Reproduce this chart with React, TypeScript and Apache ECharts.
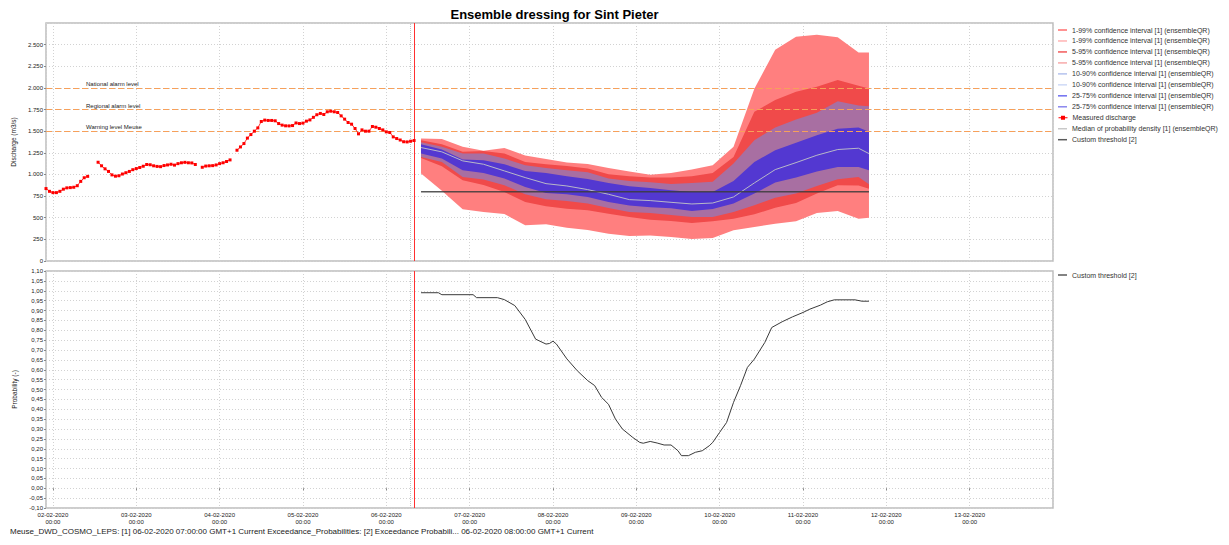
import React, { useEffect, useRef } from 'react';
import * as echarts from 'echarts';

// ---------- time helpers (hours counted from 02-02-2020 00:00 local) ----------
const BASE = new Date(2020, 1, 2, 0, 0, 0).getTime();
const HOUR = 3600000;
const t = (h: number) => BASE + h * HOUR;

// ---------- texts ----------
const chartTitle = 'Ensemble dressing for Sint Pieter';
const footerText =
  'Meuse_DWD_COSMO_LEPS: [1] 06-02-2020 07:00:00 GMT+1 Current Exceedance_Probabilities: [2] Exceedance Probabili... 06-02-2020 08:00:00 GMT+1 Current';
const band1Name = '1-99% confidence interval [1] (ensembleQR)';
const band2Name = '5-95% confidence interval [1] (ensembleQR)';
const band3Name = '10-90% confidence interval [1] (ensembleQR)';
const band4Name = '25-75% confidence interval [1] (ensembleQR)';
const measuredName = 'Measured discharge';
const medianName = 'Median of probability density [1] (ensembleQR)';
const thresholdName = 'Custom threshold [2]';

// ---------- x range (hours) ----------
const axisMinHour = -2; // 01-02-2020 22:00
const axisMaxHour = 288; // 14-02-2020 00:00
const forecastT0Hour = 103; // 06-02-2020 07:00
const probT0Hour = 104; // 06-02-2020 08:00

// ---------- alarm levels ----------
const alarmNames = ['National alarm level', 'Regional alarm level', 'Warning level Meuse'];
const alarmValues = [2000, 1750, 1500];

// ---------- measured discharge, hourly from hour -2 ----------
const measStartHour = -2;
const measValues: (number | null)[] = [
  837, 805, 790, 790, 805, 830, 845, 848, 852, 870, 920, 962, 978, null, null,
  1141, 1100, 1065, 1035, 995, 980, 985, 1005, 1020, 1035, 1055, 1068, 1080, 1095,
  1115, 1112, 1100, 1093, 1090, 1103, 1110, 1118, 1108, 1125, 1135, 1140, 1135, 1133,
  1115, null,
  1083, 1097, 1100, 1102, 1110, 1125, 1135, 1150, 1168, null,
  1280, 1318, 1357, 1420, 1461, 1500, 1538, 1612, 1628, 1624, 1624, 1620, 1588, 1570,
  1562, 1561, 1565, 1595, 1588, 1593, 1616, 1630, 1660, 1690, 1705, 1693, 1724, 1731,
  1724, 1716, 1677, 1639, 1600, 1581, 1531, 1469, 1515, 1500, 1500, 1554, 1546, 1531,
  1515, 1492, 1485, 1434, 1415, 1398, 1378, 1376, 1384, 1392,
];

// ---------- ensemble forecast quantiles ----------
const fcHours = [106, 112, 118, 124, 130, 136, 142, 148, 154, 160, 166, 172, 178, 184, 190, 196, 202, 208, 214, 220, 226, 232, 235];
const p99 = [1415, 1411, 1319, 1275, 1307, 1218, 1180, 1137, 1122, 1075, 1033, 998, 1018, 1056, 1106, 1319, 1990, 2440, 2592, 2615, 2584, 2410, 2410];
const p95 = [1396, 1350, 1261, 1270, 1241, 1145, 1118, 1099, 1068, 1002, 979, 964, 964, 979, 1018, 1203, 1724, 1859, 1955, 2013, 2090, 2025, 1994];
const p90 = [1373, 1319, 1241, 1241, 1184, 1106, 1075, 1048, 1025, 952, 925, 910, 890, 902, 917, 1126, 1396, 1542, 1635, 1712, 1847, 1797, 1789];
const p75 = [1350, 1288, 1172, 1164, 1118, 1041, 1018, 979, 948, 902, 863, 844, 817, 798, 798, 925, 1145, 1280, 1365, 1454, 1527, 1542, 1492];
const p50 = [1311, 1261, 1157, 1118, 1041, 964, 894, 867, 825, 771, 709, 698, 678, 659, 670, 740, 902, 1056, 1137, 1222, 1288, 1303, 1241];
const p25 = [1241, 1184, 1048, 1018, 952, 856, 786, 771, 740, 682, 640, 620, 609, 578, 601, 663, 779, 906, 964, 1033, 1087, 1087, 1048];
const p10 = [1203, 1145, 971, 941, 875, 771, 713, 694, 663, 613, 566, 555, 532, 508, 508, 566, 643, 732, 779, 867, 945, 971, 887];
const p05 = [1191, 1095, 933, 879, 798, 682, 632, 605, 586, 547, 508, 478, 462, 439, 458, 489, 539, 616, 670, 779, 875, 871, 836];
const p01 = [1010, 813, 597, 566, 543, 412, 424, 385, 358, 316, 289, 296, 277, 254, 265, 354, 393, 431, 458, 555, 578, 489, 501];

// ---------- custom threshold ----------
const thresholdHours = [106, 235];
const thresholdValues = [800, 800];

// ---------- exceedance probability ----------
const probHours = [106, 111, 112, 121, 122, 128, 130, 133, 136, 139, 142, 143, 144, 145, 147, 148, 151, 154, 156, 158, 160, 162, 164, 167, 169, 170, 172, 174, 176, 178, 180, 181, 183, 185, 187, 189, 190, 192, 194, 196, 198, 200, 202, 205, 207, 210, 213, 216, 218, 221, 223, 225, 231, 233, 235];
const probValues = [0.99, 0.99, 0.98, 0.98, 0.965, 0.965, 0.955, 0.925, 0.855, 0.755, 0.73, 0.733, 0.745, 0.73, 0.68, 0.655, 0.595, 0.545, 0.52, 0.46, 0.425, 0.35, 0.3, 0.257, 0.232, 0.228, 0.237, 0.229, 0.219, 0.219, 0.19, 0.165, 0.165, 0.182, 0.19, 0.215, 0.232, 0.283, 0.333, 0.435, 0.519, 0.612, 0.654, 0.738, 0.814, 0.843, 0.868, 0.89, 0.907, 0.927, 0.944, 0.954, 0.954, 0.947, 0.947];

// ---------- styles ----------
const FONT = 'Liberation Sans';
const gridLine = { color: '#d2d2d2', type: [1, 2] as number[], width: 1 };
const bandColors = ['#ff7f7f', '#f04a4a', '#a86fa2', '#5338d1'];
const legendItems: [string, string][] = [
  [band1Name, '#ff6e6e'],
  [band1Name, '#ffb3b3'],
  [band2Name, '#f25a5a'],
  [band2Name, '#f7aaaa'],
  [band3Name, '#b4c2ee'],
  [band3Name, '#cfdaf6'],
  [band4Name, '#6e6ef0'],
  [band4Name, '#8a86ee'],
  [measuredName, '#ff0000'],
  [medianName, '#c8c8c8'],
  [thresholdName, '#5a5a5a'],
];

const pad = (n: number) => (n < 10 ? '0' + n : String(n));
const dateLabel = (v: number) => {
  const d = new Date(v);
  return `${pad(d.getDate())}-${pad(d.getMonth() + 1)}-${d.getFullYear()}\n${pad(d.getHours())}:${pad(d.getMinutes())}`;
};
const thousands = (v: number) => {
  const s = String(Math.round(v));
  return s.replace(/\B(?=(\d{3})+(?!\d))/g, '.');
};
const probLabel = (v: number) => {
  const x = Math.abs(v) < 1e-9 ? 0 : v;
  return x.toFixed(2).replace('.', ',');
};

function buildOption() {
  const bands = [
    { name: band1Name, lo: p01, hi: p99 },
    { name: band2Name, lo: p05, hi: p95 },
    { name: band3Name, lo: p10, hi: p90 },
    { name: band4Name, lo: p25, hi: p75 },
  ];
  const series: any[] = [];
  bands.forEach((b, i) => {
    series.push({
      type: 'line',
      name: 'base' + i,
      xAxisIndex: 0,
      yAxisIndex: 0,
      stack: 'band' + i,
      data: fcHours.map((h, k) => [t(h), b.lo[k]]),
      symbol: 'none',
      lineStyle: { width: 0, opacity: 0 },
      silent: true,
      z: 2,
    });
    series.push({
      type: 'line',
      name: b.name,
      xAxisIndex: 0,
      yAxisIndex: 0,
      stack: 'band' + i,
      data: fcHours.map((h, k) => [t(h), b.hi[k] - b.lo[k]]),
      symbol: 'none',
      lineStyle: { width: 0, opacity: 0 },
      itemStyle: { color: bandColors[i] },
      areaStyle: { color: bandColors[i], opacity: 1 },
      silent: true,
      z: 2,
    });
  });
  series.push({
    type: 'line',
    name: medianName,
    xAxisIndex: 0,
    yAxisIndex: 0,
    data: fcHours.map((h, k) => [t(h), p50[k]]),
    symbol: 'none',
    lineStyle: { color: '#b8b8c8', width: 1 },
    itemStyle: { color: '#b8b8c8' },
    z: 3,
  });
  series.push({
    type: 'line',
    name: thresholdName,
    xAxisIndex: 0,
    yAxisIndex: 0,
    data: thresholdHours.map((h, k) => [t(h), thresholdValues[k]]),
    symbol: 'none',
    lineStyle: { color: '#3c3c3c', width: 1.5, opacity: 0.85 },
    itemStyle: { color: '#3c3c3c' },
    z: 4,
  });
  series.push({
    type: 'line',
    name: measuredName,
    xAxisIndex: 0,
    yAxisIndex: 0,
    data: measValues.map((v, i) => [t(measStartHour + i), v]),
    symbol: 'rect',
    symbolSize: 3,
    showSymbol: true,
    showAllSymbol: true,
    connectNulls: false,
    lineStyle: { color: '#ff0000', width: 0.8 },
    itemStyle: { color: '#ff0000' },
    z: 5,
    markLine: {
      silent: true,
      symbol: 'none',
      animation: false,
      data: [
        ...alarmNames.map((n, i) => ({
          name: n,
          yAxis: alarmValues[i],
          lineStyle: { color: '#f7a05a', type: [6, 3], width: 1.2, opacity: 1 },
          label: {
            show: true,
            position: 'insideStartTop',
            formatter: n,
            distance: [40, 1],
            fontSize: 6,
            fontFamily: FONT,
            color: '#222',
          },
        })),
        {
          xAxis: t(forecastT0Hour),
          lineStyle: { color: '#c4c4c4', type: [1, 1], width: 1 },
          label: { show: false },
        },
        {
          xAxis: t(probT0Hour),
          lineStyle: { color: '#ff3030', type: 'solid', width: 1 },
          label: { show: false },
        },
      ],
    },
  });
  series.push({
    type: 'line',
    name: thresholdName,
    xAxisIndex: 1,
    yAxisIndex: 1,
    data: probHours.map((h, k) => [t(h), probValues[k]]),
    symbol: 'none',
    lineStyle: { color: '#3a3a3a', width: 1 },
    itemStyle: { color: '#3a3a3a' },
    z: 4,
    markLine: {
      silent: true,
      symbol: 'none',
      animation: false,
      data: [
        {
          xAxis: t(forecastT0Hour),
          lineStyle: { color: '#c4c4c4', type: [1, 1], width: 1 },
          label: { show: false },
        },
        {
          xAxis: t(probT0Hour),
          lineStyle: { color: '#ff3030', type: 'solid', width: 1 },
          label: { show: false },
        },
      ],
    },
  });

  const legendText = { fontSize: 7, fontFamily: FONT, color: '#333' };
  const legends: any[] = legendItems.map(([name, color], i) => {
    const isMeasured = name === measuredName;
    return {
      left: 1058,
      top: 31 + 10.97 * i - 4.5,
      orient: 'vertical',
      padding: 0,
      itemWidth: 9,
      itemHeight: isMeasured ? 5 : 1.5,
      selectedMode: false,
      textStyle: legendText,
      data: [
        isMeasured
          ? { name, itemStyle: { color }, lineStyle: { color, width: 1 } }
          : { name, icon: 'rect', itemStyle: { color, borderWidth: 0, opacity: 1 } },
      ],
    };
  });
  legends.push({
    left: 1058,
    top: 276 - 4.5,
    orient: 'vertical',
    padding: 0,
    itemWidth: 9,
    itemHeight: 1.5,
    selectedMode: false,
    textStyle: legendText,
    data: [{ name: thresholdName, icon: 'rect', itemStyle: { color: '#5a5a5a', borderWidth: 0 } }],
  });

  const xAxisBase = (gridIndex: number) => ({
    type: 'time',
    gridIndex,
    min: t(axisMinHour),
    max: t(axisMaxHour),
    minInterval: 24 * HOUR,
    maxInterval: 24 * HOUR,
    axisLine: { show: false },
    axisTick: { show: gridIndex === 1, length: 2, lineStyle: { color: '#888' } },
    axisLabel: {
      show: gridIndex === 1,
      formatter: (v: number) => dateLabel(v),
      fontSize: 6,
      lineHeight: 7,
      margin: 3,
      color: '#222',
      fontFamily: FONT,
      showMinLabel: false,
      showMaxLabel: false,
    },
    splitLine: { show: true, lineStyle: gridLine },
  });

  return {
    animation: false,
    backgroundColor: '#ffffff',
    title: {
      text: chartTitle,
      left: 549.5,
      top: 3,
      textAlign: 'center',
      textStyle: { fontSize: 13, fontWeight: 'bold', fontFamily: FONT, color: '#000' },
    },
    legend: legends,
    grid: [
      { left: 46, top: 23, width: 1007, height: 238, show: true, borderColor: '#bdbdbd', borderWidth: 1.5, backgroundColor: 'transparent' },
      { left: 46, top: 271, width: 1007, height: 237, show: true, borderColor: '#bdbdbd', borderWidth: 1.5, backgroundColor: 'transparent' },
    ],
    xAxis: [xAxisBase(0), xAxisBase(1)],
    yAxis: [
      {
        type: 'value',
        gridIndex: 0,
        min: 0,
        max: 2750,
        interval: 250,
        name: 'Discharge (m3/s)',
        nameLocation: 'middle',
        nameGap: 26,
        nameTextStyle: { fontSize: 6.5, fontFamily: FONT, color: '#222' },
        axisLine: { show: false },
        axisTick: { show: true, length: 2, lineStyle: { color: '#888' } },
        axisLabel: { fontSize: 6, margin: 3, color: '#222', fontFamily: FONT, showMaxLabel: false, formatter: (v: number) => thousands(v) },
        splitLine: { show: true, lineStyle: gridLine },
      },
      {
        type: 'value',
        gridIndex: 1,
        min: -0.1,
        max: 1.1,
        interval: 0.05,
        name: 'Probability (-)',
        nameLocation: 'middle',
        nameGap: 26,
        nameTextStyle: { fontSize: 6.5, fontFamily: FONT, color: '#222' },
        axisLine: { show: false },
        axisTick: { show: true, length: 2, lineStyle: { color: '#888' } },
        axisLabel: { fontSize: 6, margin: 3, color: '#222', fontFamily: FONT, formatter: (v: number) => probLabel(v) },
        splitLine: { show: true, lineStyle: gridLine },
      },
    ],
    graphic: [
      {
        type: 'text',
        left: 10,
        top: 527,
        style: { text: footerText, fontSize: 8, fontFamily: FONT, fill: '#222' },
      },
    ],
    series,
  };
}

export default function App() {
  const ref = useRef<HTMLDivElement>(null);
  useEffect(() => {
    if (!ref.current) return;
    const chart = echarts.init(ref.current, undefined, { renderer: 'svg' });
    chart.setOption(buildOption() as any);
    return () => chart.dispose();
  }, []);
  return (
    <div
      ref={ref}
      style={{ position: 'absolute', left: 0, top: 0, width: 1229, height: 545, background: '#fff' }}
    />
  );
}
